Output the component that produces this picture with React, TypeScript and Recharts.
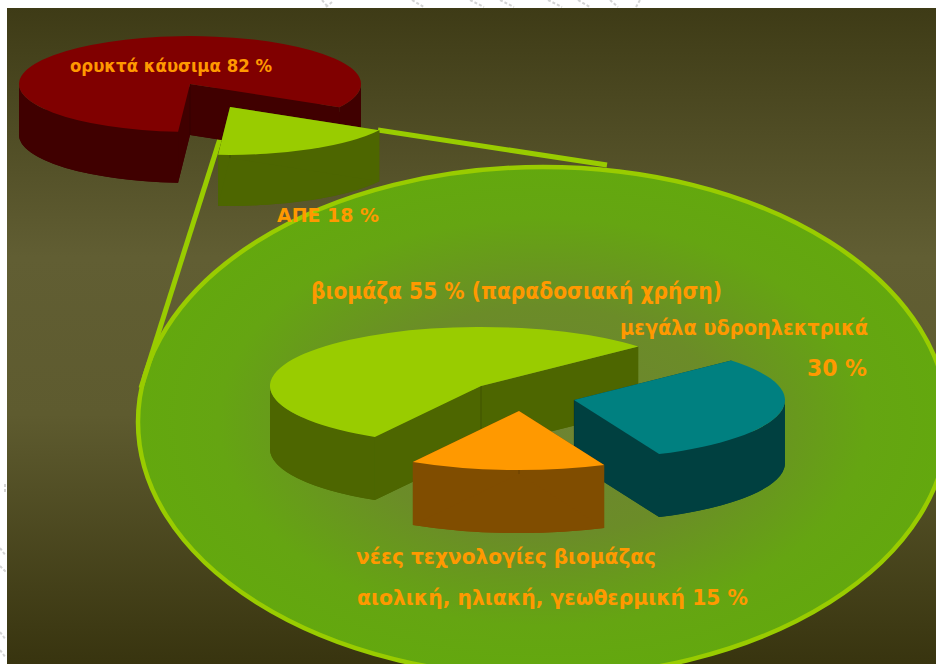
import React from 'react';
import { PieChart, Pie, Cell } from 'recharts';

const outerNames = ['ορυκτά κάυσιμα', 'ΑΠΕ'];
const outerValues = [82, 18];
const innerNames = ['βιομάζα', 'μεγάλα υδροηλεκτρικά', 'νέες τεχνολογίες βιομάζας'];
const innerValues = [55, 30, 15];

const outerData = outerNames.map((name, i) => ({ name, value: outerValues[i] }));
const innerData = innerNames.map((name, i) => ({ name, value: innerValues[i] }));

const WIDTH = 936;
const HEIGHT = 664;
const LABEL_COLOR = '#ff9900';
const LABEL_FONT = '"DejaVu Sans", sans-serif';

interface SliceStyle {
  top: string;
  side: string;
  dx: number;
  dy: number;
}

const OUTER_STYLES: SliceStyle[] = [
  { top: '#800000', side: '#400000', dx: 0, dy: 0 },
  { top: '#99cc00', side: '#4d6600', dx: 40, dy: 23 },
];
const INNER_STYLES: SliceStyle[] = [
  { top: '#99cc00', side: '#4d6600', dx: 0, dy: 0 },
  { top: '#008080', side: '#004040', dx: 93, dy: 14 },
  { top: '#ff9900', side: '#804d00', dx: 38, dy: 25 },
];

interface LabelLine {
  text: string;
  x: number;
  y: number;
  width: number;
  size: number;
}

const OUTER_LABELS: LabelLine[][] = [
  [{ text: 'ορυκτά κάυσιμα 82 %', x: 70, y: 72, width: 202, size: 18 }],
  [{ text: 'ΑΠΕ 18 %', x: 277, y: 222, width: 102, size: 19 }],
];
const INNER_LABELS: LabelLine[][] = [
  [{ text: 'βιομάζα 55 % (παραδοσιακή χρήση)', x: 311, y: 299, width: 411, size: 23 }],
  [
    { text: 'μεγάλα υδροηλεκτρικά', x: 620, y: 335, width: 248, size: 22 },
    { text: '30 %', x: 807, y: 376, width: 60, size: 23 },
  ],
  [
    { text: 'νέες τεχνολογίες βιομάζας', x: 356, y: 564, width: 300, size: 22 },
    { text: 'αιολική, ηλιακή, γεωθερμική 15 %', x: 357, y: 605, width: 391, size: 22 },
  ],
];

// faint marks of the page behind the slide, along its top and left edges
const EDGE_MARKS = [
  [322, 0, 328, 7], [332, 2, 326, 7], [412, 0, 424, 7], [470, 0, 484, 7], [500, 0, 514, 7],
  [548, 0, 562, 7], [578, 0, 590, 7], [610, 0, 618, 7], [636, 7, 640, 0],
  [0, 548, 6, 556], [0, 566, 6, 572], [0, 632, 6, 640], [0, 650, 6, 658], [5, 484, 5, 494],
];

// Sector squashed to an ellipse and extruded downward, so the flat pie reads as a 3D disc
const extrudedSlice = (styles: SliceStyle[], tilt: number, depth: number) => (props: any) => {
  const { cx, cy, outerRadius, startAngle, endAngle, index } = props;
  const style = styles[index];
  const rx = outerRadius;
  const ry = outerRadius * tilt;
  const ox = cx + style.dx;
  const oy = cy + style.dy;
  const point = (deg: number) => {
    const rad = (deg * Math.PI) / 180;
    return { x: ox + rx * Math.cos(rad), y: oy - ry * Math.sin(rad) };
  };
  const a = point(startAngle);
  const b = point(endAngle);
  const large = Math.abs(endAngle - startAngle) > 180 ? 1 : 0;
  const sweep = endAngle < startAngle ? 1 : 0;
  const sector = (shift: number) =>
    `M${ox},${oy + shift}L${a.x},${a.y + shift}A${rx},${ry} 0 ${large} ${sweep} ${b.x},${b.y + shift}Z`;
  const wall = (p: { x: number; y: number }) =>
    `M${ox},${oy}L${p.x},${p.y}L${p.x},${p.y + depth}L${ox},${oy + depth}Z`;

  // outer wall only where the rim faces the viewer: sin < 0, i.e. 180..360 degrees
  const lo = Math.min(startAngle, endAngle);
  const hi = Math.max(startAngle, endAngle);
  const rims: string[] = [];
  for (let k = -2; k <= 2; k++) {
    const from = Math.max(lo, 180 + 360 * k);
    const to = Math.min(hi, 360 + 360 * k);
    if (to <= from) continue;
    const p = point(from);
    const q = point(to);
    rims.push(
      `M${p.x},${p.y}A${rx},${ry} 0 0 0 ${q.x},${q.y}L${q.x},${q.y + depth}A${rx},${ry} 0 0 1 ${p.x},${p.y + depth}Z`
    );
  }

  return (
    <g>
      <path d={sector(depth)} fill={style.side} />
      {rims.map((d) => (
        <path key={d} d={d} fill={style.side} />
      ))}
      <path d={wall(a)} fill={style.side} />
      <path d={wall(b)} fill={style.side} />
      <line x1={ox} y1={oy} x2={ox} y2={oy + depth} stroke="#000" strokeOpacity={0.18} />
      <path d={sector(0)} fill={style.top} />
    </g>
  );
};

const sliceLabel = (labels: LabelLine[][]) => (props: any) => (
  <g key={props.index}>
    {labels[props.index].map((line) => (
      <text
        key={line.text}
        x={line.x}
        y={line.y}
        fill={LABEL_COLOR}
        fontFamily={LABEL_FONT}
        fontWeight="bold"
        fontSize={line.size}
        textLength={line.width}
        lengthAdjust="spacingAndGlyphs"
      >
        {line.text}
      </text>
    ))}
  </g>
);

const layer: React.CSSProperties = { position: 'absolute', left: 0, top: 0 };

const App: React.FC = () => (
  <div style={{ position: 'absolute', left: 0, top: 0, width: WIDTH, height: HEIGHT, overflow: 'hidden', background: '#fff' }}>
    <svg width={WIDTH} height={HEIGHT} style={layer}>
      <defs>
        <linearGradient id="panel" x1="0" y1="0" x2="0" y2="1">
          <stop offset="0" stopColor="#3e3b16" />
          <stop offset="0.38" stopColor="#615e33" />
          <stop offset="0.62" stopColor="#5e5b2f" />
          <stop offset="1" stopColor="#38340f" />
        </linearGradient>
        <radialGradient id="disc" cx="0.5" cy="0.5" r="0.5">
          <stop offset="0" stopColor="#6e8333" />
          <stop offset="0.45" stopColor="#6b8c28" />
          <stop offset="0.8" stopColor="#65a512" />
          <stop offset="1" stopColor="#63a80e" />
        </radialGradient>
      </defs>
      {EDGE_MARKS.map(([x1, y1, x2, y2]) => (
        <line key={`${x1}-${y1}`} x1={x1} y1={y1} x2={x2} y2={y2} stroke="#d4d4d4" strokeWidth={2} strokeDasharray="3 2" />
      ))}
      <rect x={7} y={8} width={WIDTH - 7} height={HEIGHT - 8} fill="url(#panel)" />
      <ellipse cx={543} cy={422} rx={405} ry={255} fill="url(#disc)" stroke="#99cc00" strokeWidth={4.5} />
      <line x1={230} y1={107} x2={141} y2={388} stroke="#99cc00" strokeWidth={5} />
      <line x1={378} y1={130} x2={607} y2={165} stroke="#99cc00" strokeWidth={5} />
    </svg>
    <div style={layer}>
      <PieChart width={WIDTH} height={HEIGHT} margin={{ top: 0, right: 0, bottom: 0, left: 0 }}>
        <Pie
          data={outerData}
          dataKey="value"
          nameKey="name"
          cx={190}
          cy={84}
          outerRadius={171}
          startAngle={-29.2}
          endAngle={330.8}
          stroke="none"
          labelLine={false}
          label={sliceLabel(OUTER_LABELS)}
          shape={extrudedSlice(OUTER_STYLES, 0.28, 51)}
          isAnimationActive={false}
        >
          {outerData.map((entry, index) => (
            <Cell key={entry.name} fill={OUTER_STYLES[index].top} />
          ))}
        </Pie>
        <Pie
          data={innerData}
          dataKey="value"
          nameKey="name"
          cx={481}
          cy={386}
          outerRadius={211}
          startAngle={239.8}
          endAngle={-120.2}
          stroke="none"
          labelLine={false}
          label={sliceLabel(INNER_LABELS)}
          shape={extrudedSlice(INNER_STYLES, 0.28, 63)}
          isAnimationActive={false}
        >
          {innerData.map((entry, index) => (
            <Cell key={entry.name} fill={INNER_STYLES[index].top} />
          ))}
        </Pie>
      </PieChart>
    </div>
  </div>
);

export default App;
